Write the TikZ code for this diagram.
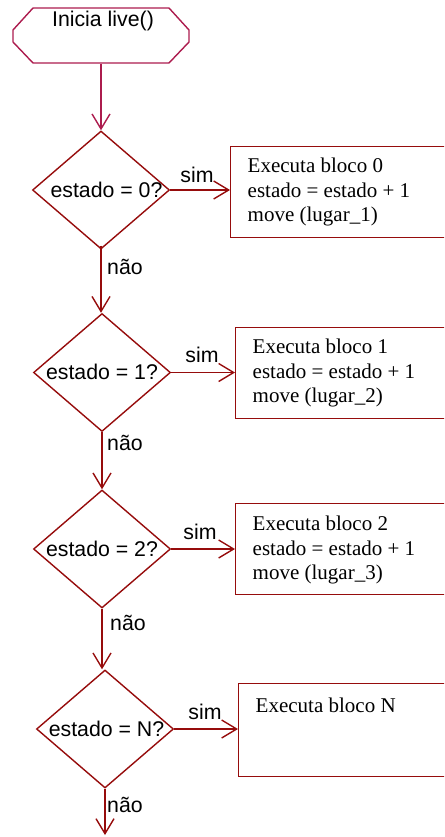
\documentclass[tikz,border=0pt]{standalone}
\usepackage{fontspec}
\setmainfont{Liberation Serif}
\setsansfont{Liberation Sans}
\usetikzlibrary{arrows.meta,shapes.geometric}
\definecolor{dred}{RGB}{150,12,12}
\definecolor{crim}{RGB}{172,28,78}
\begin{document}
\begin{tikzpicture}[x=1pt,y=-1pt,line width=1.4pt,
  dia/.style={diamond,draw=dred,inner sep=0pt,minimum width=137pt,minimum height=118pt},
  blk/.style={rectangle,draw=dred,anchor=north west,inner sep=0pt,minimum width=220pt,minimum height=91pt},
  sf/.style={font=\sffamily\fontsize{21.3}{24}\selectfont,inner sep=0pt},
  rm/.style={font=\rmfamily\fontsize{21}{24.5}\selectfont,inner sep=0pt,anchor=west,align=left},
  conn/.style={draw=dred,-{Straight Barb[length=15pt,width=18pt]}},
  line/.style={draw=dred}]
\useasboundingbox (0,0) rectangle (444,837);
\clip (0,0) rectangle (444,837);
% start node
\draw[crim] (33,8) -- (169,8) -- (189,30) -- (189,42) -- (169,63) -- (33,63) -- (13,42) -- (13,30) -- cycle;
\node[minimum width=176pt,minimum height=55pt,inner sep=0pt] (start) at (101,35.5) {};
\node[sf] (starttxt) at (103,21) {Inicia live()};
% diamonds
\node[dia] (d0) at (101,190) {};
\node[dia] (d1) at (102,372.5) {};
\node[dia] (d2) at (102,549) {};
\node[dia] (dN) at (105,729) {};
\node[sf] (t0) at (106.5,190) {estado = 0?};
\node[sf] (t1) at (102,372) {estado = 1?};
\node[sf] (t2) at (102,549) {estado = 2?};
\node[sf] (tN) at (106.5,729) {estado = N?};
% boxes
\node[blk] (b0) at (230,146) {};
\node[blk] (b1) at (235,327) {};
\node[blk] (b2) at (235,503) {};
\node[blk,minimum height=93pt] (bN) at (238,683) {};
\node[rm] (x0) at (247,192) {Executa bloco 0\\estado = estado + 1\\move (lugar\_1)};
\node[rm] (x1) at (252,373) {Executa bloco 1\\estado = estado + 1\\move (lugar\_2)};
\node[rm] (x2) at (252,550) {Executa bloco 2\\estado = estado + 1\\move (lugar\_3)};
\node[rm] (xN) at (255,705) {Executa bloco N};
% labels
\node[sf] (s0) at (197,175) {sim};
\node[sf] (s1) at (202,355) {sim};
\node[sf] (s2) at (200,532) {sim};
\node[sf] (sN) at (205,712) {sim};
\node[sf] (n0) at (125,267) {não};
\node[sf] (n1) at (125,443) {não};
\node[sf] (n2) at (128,623) {não};
\node[sf] (nN) at (125,805) {não};
\coordinate (end) at (103,835);
% connectors
\draw[conn,draw=crim] (start.south) -- (d0.north);
\draw[conn] ([yshift=4pt]d0.south) -- (d0.south |- d1.north);
\draw[conn] (d1.south) -- (d1.south |- d2.north);
\draw[conn] (d2.south) -- (d2.south |- dN.north);
\draw[conn] (dN.south) -- (dN.south |- end);
\draw[conn] (d0.east) -- (d0.east -| b0.west);
\draw[conn] (d1.east) -- (d1.east -| b1.west);
\draw[conn] (d2.east) -- (d2.east -| b2.west);
\draw[conn] (dN.east) -- (dN.east -| bN.west);
\end{tikzpicture}
\end{document}
